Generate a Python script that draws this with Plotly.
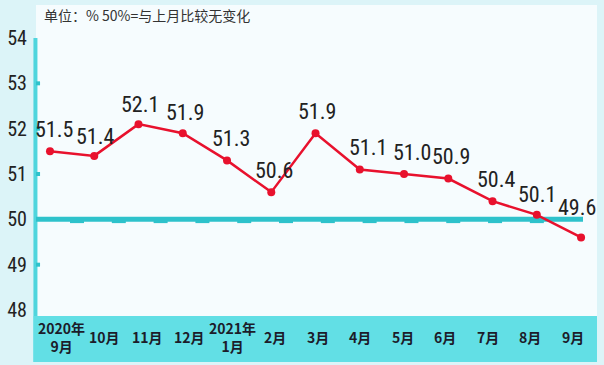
import plotly.graph_objects as go

months = ["2020年<br>9月", "10月", "11月", "12月", "2021年<br>1月", "2月", "3月",
          "4月", "5月", "6月", "7月", "8月", "9月"]
values = [51.5, 51.4, 52.1, 51.9, 51.3, 50.6, 51.9, 51.1, 51.0, 50.9, 50.4, 50.1, 49.6]
y_ticks = [48, 49, 50, 51, 52, 53, 54]
title_text = "单位：% 50%=与上月比较无变化"

RED = "#e8112d"
CYAN_LINE = "#2ec2cb"
CYAN_AXIS = "#4fd5dd"
BAND = "#62dfe5"
NARROW = "Roboto Condensed, DejaVu Sans Condensed, sans-serif"
CJK = "Noto Sans CJK SC, sans-serif"

idx = list(range(len(values)))

fig = go.Figure()

# small dashes under the 50 line
dash_x = [(77 + 41.8 * i - 50) / 44.25 for i in range(12)]
fig.add_trace(go.Scatter(
    x=dash_x, y=[49.95] * len(dash_x), mode="markers",
    marker=dict(symbol="line-ew", size=10, line=dict(color=CYAN_LINE, width=3)),
    hoverinfo="skip", showlegend=False, cliponaxis=False))

# small dots on y axis
dot_y = [49, 51, 52, 53]
fig.add_trace(go.Scatter(
    x=[-0.27] * len(dot_y), y=dot_y, mode="markers",
    marker=dict(symbol="square", size=4, color=CYAN_LINE),
    hoverinfo="skip", showlegend=False, cliponaxis=False))

fig.add_trace(go.Scatter(
    x=idx, y=values, mode="lines+markers",
    line=dict(color=RED, width=2.5),
    marker=dict(color=RED, size=8),
    showlegend=False))

shapes = [
    dict(type="rect", xref="paper", yref="paper", x0=-0.005, x1=1.0, y0=-0.148, y1=0,
         fillcolor=BAND, line=dict(width=0), layer="below"),
    dict(type="line", xref="paper", yref="y", x0=-0.001, x1=-0.001, y0=47.868, y1=54,
         line=dict(color=CYAN_AXIS, width=4), layer="below"),
    dict(type="line", xref="paper", yref="y", x0=0, x1=(583 - 36) / 561, y0=50, y1=50,
         line=dict(color=CYAN_LINE, width=5), layer="below"),
]

annotations = [
    dict(text=title_text, xref="paper", yref="paper", x=0.011, y=0.968,
         xanchor="left", yanchor="middle", showarrow=False,
         font=dict(family=CJK, size=14, color="#333333")),
]

label_shift_y = [22, 19, 20, 21, 22, 22, 22, 22, 22, 22, 22, 20, 30]
label_shift_x = [4, 1, 1, 2, 4, 3, 1, 8, 8, 3, 4, 0, -4]
for i, v in enumerate(values):
    annotations.append(dict(
        text=f"{v:.1f}", x=i, y=v, xref="x", yref="y", showarrow=False,
        yshift=label_shift_y[i], xshift=label_shift_x[i],
        font=dict(family=NARROW, size=22, color="#222222")))

for i, m in enumerate(months):
    annotations.append(dict(
        text=f"<b>{m}</b>", x=(62 + 42.58 * i - 50) / 44.25, y=-0.068,
        xref="x", yref="paper", xanchor="center", yanchor="middle", showarrow=False,
        font=dict(family=CJK, size=14, color="#1c1c2a")))

fig.update_layout(
    width=604, height=365,
    margin=dict(l=36, r=7, t=5, b=49, autoexpand=False),
    paper_bgcolor="#dcf4f8",
    plot_bgcolor="#f6fcfe",
    shapes=shapes,
    annotations=annotations,
    xaxis=dict(range=[-0.316, 12.36], showgrid=False, zeroline=False,
               showticklabels=False, showline=False, fixedrange=True,
               automargin=False),
    yaxis=dict(range=[47.868, 54.728], tickvals=y_ticks, showgrid=False,
               zeroline=False, showline=False, ticks="",
               ticklabelstandoff=8, automargin=False,
               tickfont=dict(family=NARROW, size=20, color="#222222")),
)

fig.write_html("out.html", config={"displayModeBar": False},
               post_script="document.body.style.margin='0';document.body.style.overflow='hidden';")
